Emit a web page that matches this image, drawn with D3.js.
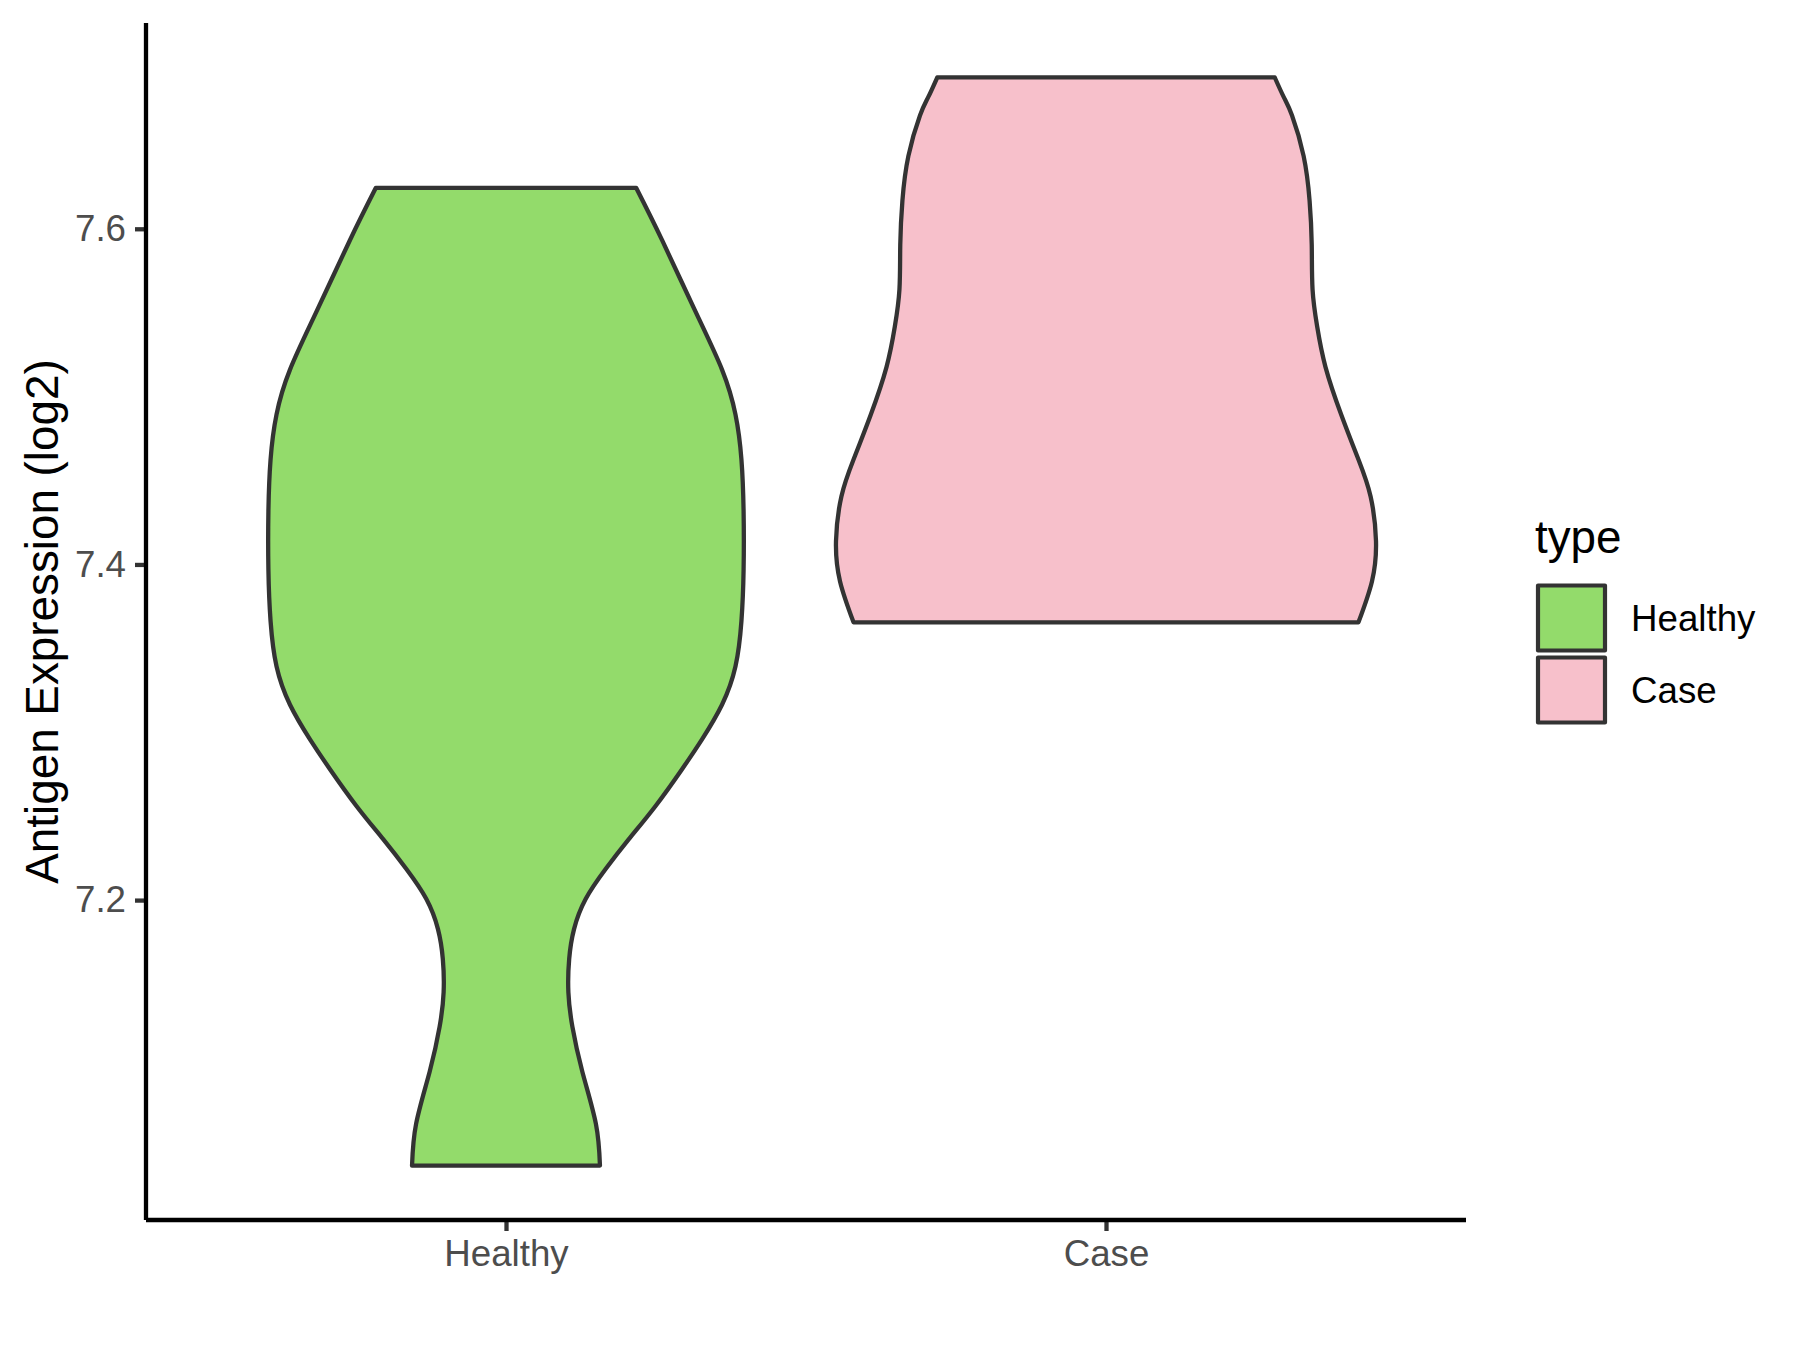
<!DOCTYPE html>
<html>
<head>
<meta charset="utf-8">
<script src="https://cdn.jsdelivr.net/npm/d3@7"></script>
<style>
  html, body { margin: 0; padding: 0; background: #ffffff; }
  svg { display: block; }
  text { font-family: "Liberation Sans", Arial, Helvetica, sans-serif; }
</style>
</head>
<body>
<svg id="chart" width="1800" height="1350"></svg>
<script>
// ---------- data ----------
const categories = ["Healthy", "Case"];
const fillColors = ["#93DB6B", "#F7C0CB"];
const yTicks = [7.2, 7.4, 7.6];
const yTitle = "Antigen Expression (log2)";
const legendTitle = "type";

// violin outlines: expression value and relative density width (1 = widest violin)
const healthyValues = [7.0418, 7.0667, 7.0976, 7.1244, 7.1452, 7.1649, 7.1827, 7.2006, 7.2185, 7.2363, 7.2561, 7.2780, 7.2958, 7.3164, 7.3393, 7.3663, 7.3970, 7.4315, 7.4625, 7.4893, 7.5161, 7.5506, 7.5929, 7.6244];
const healthyDensity = [0.348, 0.333, 0.283, 0.246, 0.231, 0.234, 0.252, 0.295, 0.369, 0.455, 0.554, 0.652, 0.726, 0.800, 0.850, 0.872, 0.880, 0.880, 0.872, 0.850, 0.800, 0.702, 0.579, 0.482];
const caseValues = [7.3655, 7.3899, 7.4140, 7.4405, 7.4625, 7.4889, 7.5176, 7.5418, 7.5639, 7.5904, 7.6168, 7.6433, 7.6675, 7.6786, 7.6902];
const caseDensity = [0.935, 0.985, 1.000, 0.980, 0.935, 0.872, 0.813, 0.782, 0.765, 0.762, 0.754, 0.732, 0.689, 0.658, 0.625];

const violins = [
  { cat: "Healthy", values: healthyValues, density: healthyDensity },
  { cat: "Case", values: caseValues, density: caseDensity }
];

// ---------- layout ----------
const svg = d3.select("#chart");
const panel = { left: 146, right: 1466, top: 23, bottom: 1220 };

const allVals = healthyValues.concat(caseValues);
const vmin = d3.min(allVals), vmax = d3.max(allVals);
const pad = (vmax - vmin) * 0.05;

const y = d3.scaleLinear().domain([vmin - pad, vmax + pad]).range([panel.bottom, panel.top]);
const x = d3.scalePoint().domain(categories).range([panel.left, panel.right]).padding(0.6);
const color = d3.scaleOrdinal().domain(categories).range(fillColors);
const halfMax = x.step() * 0.45;
const w = d3.scaleLinear().domain([0, 1]).range([0, halfMax]);

// ---------- violins ----------
const area = d3.area()
  .y(d => y(d.v))
  .x0(d => d.cx - w(d.d))
  .x1(d => d.cx + w(d.d))
  .curve(d3.curveNatural);

violins.forEach(vl => {
  const cx = x(vl.cat);
  const pts = vl.values.map((v, i) => ({ v: v, d: vl.density[i], cx: cx }));
  svg.append("path")
    .attr("d", area(pts))
    .attr("fill", color(vl.cat))
    .attr("stroke", "#333333")
    .attr("stroke-width", 4.3)
    .attr("stroke-linejoin", "round");
});

// ---------- axes ----------
const yAxis = d3.axisLeft(y).tickValues(yTicks).tickFormat(d3.format(".1f"))
  .tickSize(11).tickSizeOuter(0).tickPadding(9);
const gy = svg.append("g").attr("transform", `translate(${panel.left},0)`).call(yAxis);
gy.select(".domain").remove();
gy.selectAll(".tick line").attr("stroke", "#333333").attr("stroke-width", 4.3);
gy.selectAll(".tick text").attr("fill", "#4D4D4D").attr("font-size", "36.7px")
  .attr("font-family", "'Liberation Sans', Arial, sans-serif");

const xAxis = d3.axisBottom(x).tickSize(11).tickSizeOuter(0).tickPadding(9);
const gx = svg.append("g").attr("transform", `translate(0,${panel.bottom})`).call(xAxis);
gx.select(".domain").remove();
gx.selectAll(".tick line").attr("stroke", "#333333").attr("stroke-width", 4.3);
gx.selectAll(".tick text").attr("fill", "#4D4D4D").attr("font-size", "36.7px")
  .attr("font-family", "'Liberation Sans', Arial, sans-serif");

// axis lines
svg.append("line").attr("x1", panel.left).attr("x2", panel.left)
  .attr("y1", panel.top).attr("y2", panel.bottom)
  .attr("stroke", "#000").attr("stroke-width", 4.3);
svg.append("line").attr("x1", panel.left).attr("x2", panel.right)
  .attr("y1", panel.bottom).attr("y2", panel.bottom)
  .attr("stroke", "#000").attr("stroke-width", 4.3);

// y title
svg.append("text")
  .attr("transform", `translate(58,${(panel.top + panel.bottom) / 2}) rotate(-90)`)
  .attr("text-anchor", "middle")
  .attr("font-size", "45.8px")
  .attr("fill", "#000")
  .text(yTitle);

// ---------- legend ----------
const lg = svg.append("g");
lg.append("text").attr("x", 1535).attr("y", 553).attr("font-size", "45.8px").attr("fill", "#000").text(legendTitle);
categories.forEach((c, i) => {
  const top = 585.5 + i * 72;
  lg.append("rect").attr("x", 1538).attr("y", top).attr("width", 67).attr("height", 65)
    .attr("fill", color(c)).attr("stroke", "#333333").attr("stroke-width", 4.2)
    .attr("stroke-linejoin", "round");
  lg.append("text").attr("x", 1631).attr("y", top + 32.5 + 13).attr("font-size", "36.7px")
    .attr("fill", "#000").text(c);
});
</script>
</body>
</html>
